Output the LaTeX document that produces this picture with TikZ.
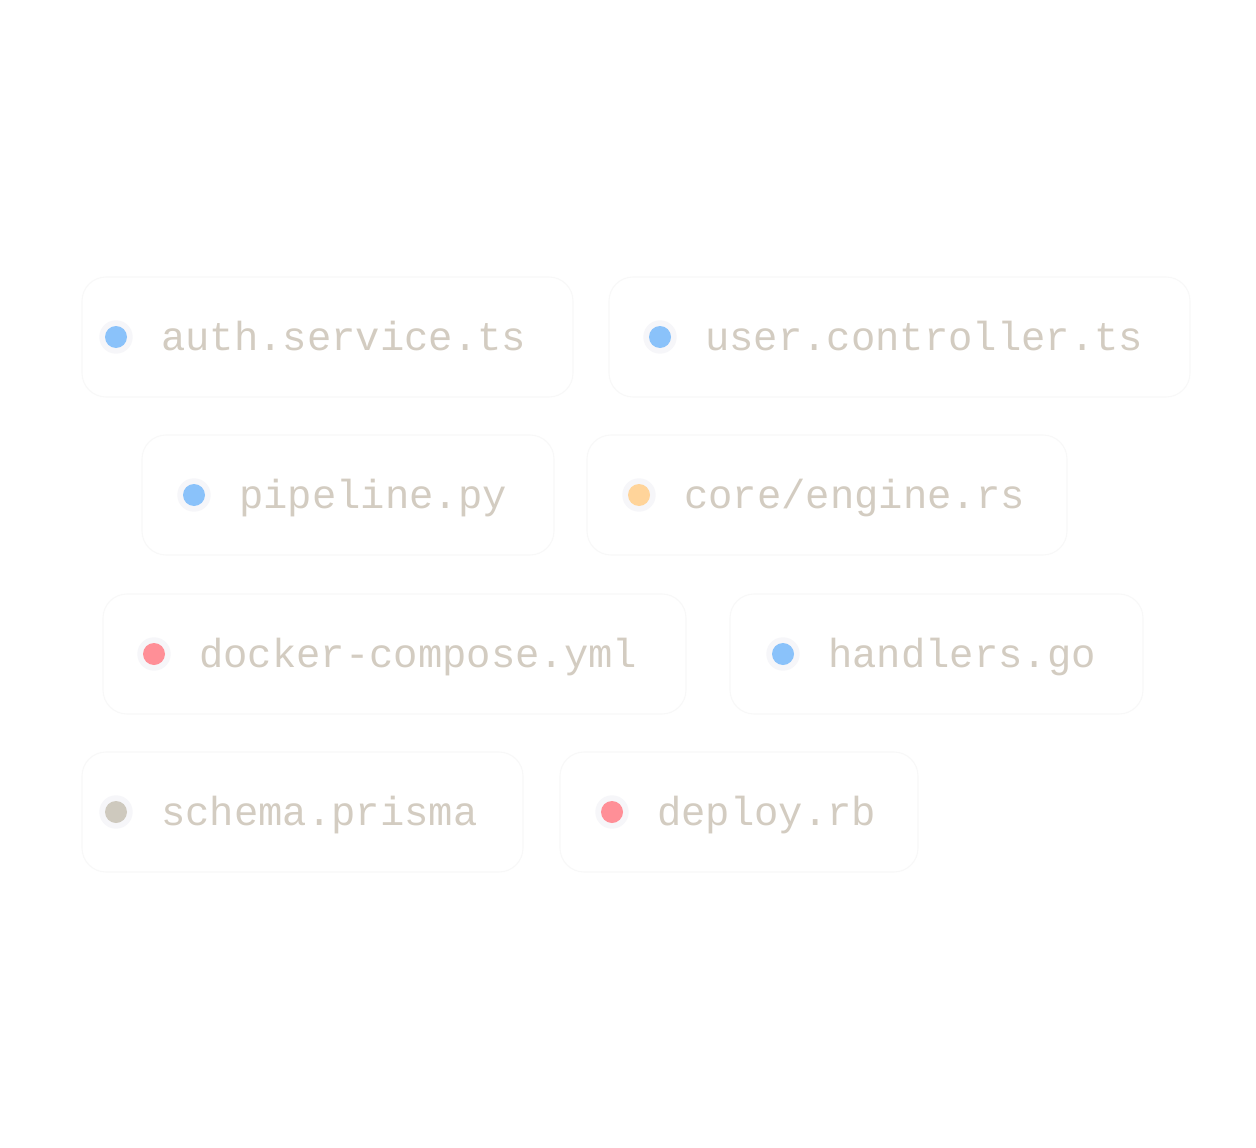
\documentclass[tikz,border=0pt]{standalone}
\usepackage{fontspec}
\setmonofont{Liberation Mono}
\usetikzlibrary{positioning}
\definecolor{Bc}{HTML}{8AC2FA}
\definecolor{Ac}{HTML}{FFD49A}
\definecolor{Rc}{HTML}{FF8F97}
\definecolor{Gc}{HTML}{CEC9BE}
\definecolor{ink}{HTML}{D3CCC1}
\definecolor{haze}{HTML}{F6F6F9}
\definecolor{edge}{HTML}{F8F8F8}
\tikzset{
  tagbox/.style={draw=edge, fill=white, line width=0.8pt, rounded corners=18pt},
  halo/.style={circle, fill=haze, inner sep=0pt, minimum size=25pt},
  dot/.style={circle, inner sep=0pt, minimum size=16.5pt},
  fname/.style={anchor=base west, inner sep=0pt, text=ink,
    font=\ttfamily\fontsize{30.4}{36}\selectfont},
}
% name, left, right, centre y, dot x, colour, text
\newcommand{\ftag}[7]{%
  \draw[tagbox] (#2,#4-60) rectangle (#3,#4+60);
  \node[halo] (#1h) at (#5,#4) {};
  \node[dot, fill=#6] (#1d) at (#5,#4) {};
  \node[fname] (#1) at (#5+45,#4+13) {#7};}

\begin{document}
\begin{tikzpicture}[x=0.75pt, y=-0.75pt]
  \useasboundingbox[fill=white] (0,0) rectangle (1256,1148);
  \ftag{authsvc}{82}{573}{337}{116}{Bc}{auth.service.ts}
  \ftag{userctl}{609}{1190}{337}{660}{Bc}{user.controller.ts}
  \ftag{pipeline}{142}{554}{495}{194}{Bc}{pipeline.py}
  \ftag{engine}{587}{1067}{495}{639}{Ac}{core/engine.rs}
  \ftag{compose}{103}{686}{654}{154}{Rc}{docker-compose.yml}
  \ftag{handlers}{730}{1143}{654}{783}{Bc}{handlers.go}
  \ftag{schema}{82}{523}{812}{116}{Gc}{schema.prisma}
  \ftag{deploy}{560}{918}{812}{612}{Rc}{deploy.rb}
\end{tikzpicture}
\end{document}
